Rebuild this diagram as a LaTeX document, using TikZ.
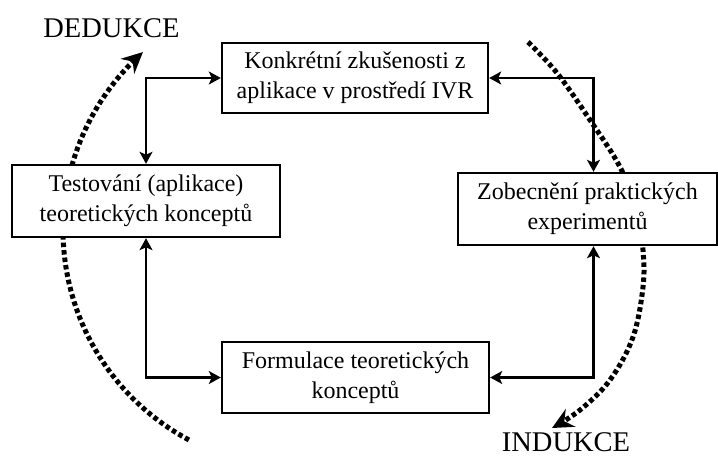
\documentclass[tikz,border=0pt]{standalone}
\usepackage{fontspec}
\setmainfont{Liberation Serif}
\usetikzlibrary{arrows.meta}
\begin{document}
\begin{tikzpicture}[x=1pt,y=-1pt,
  stage/.style={draw, line width=2.4pt, fill=white, inner sep=0pt, align=center,
                font=\fontsize{24}{30}\selectfont},
  link/.style={line width=2.6pt,
               {Stealth[length=12pt,width=13pt,inset=3pt]}-{Stealth[length=12pt,width=13pt,inset=3pt]}},
  sweep/.style={line width=5pt, dash pattern=on 4.5pt off 3pt,
                -{Stealth[length=21pt,width=20pt,inset=7pt]}},
  heading/.style={font=\fontsize{28.5}{34}\selectfont, inner sep=0pt}]
\useasboundingbox (0,0) rectangle (718,459);

% dotted cycle arcs (drawn first, boxes cover them)
\draw[sweep] plot[domain=118.1:228.4, samples=60] ({301+238*cos(\x)},{230+238*sin(\x)});
\draw[sweep] plot[smooth, tension=0.6] coordinates {(528,42) (557,73) (590,120) (620,167)
  (637,210) (643,250) (643,287) (633,337) (610,380) (580,410) (552,428)};

% stages of the cycle
\node[stage, minimum width=266pt, minimum height=70pt] (K) at (355,78)
  {Konkrétní zkušenosti z\\aplikace v prostředí IVR};
\node[stage, minimum width=268pt, minimum height=72pt] (T) at (146,201)
  {Testování (aplikace)\\teoretických konceptů};
\node[stage, minimum width=259pt, minimum height=72pt] (Z) at (587.5,209)
  {Zobecnění praktických\\experimentů};
\node[stage, minimum width=267pt, minimum height=71pt] (F) at (355.5,377.5)
  {Formulace teoretických\\konceptů};

% connectors
\draw[link] (K.west) -| (T.north);
\draw[link] (K.east) -| ([xshift=6pt]Z.north);
\draw[link] (T.south) |- (F.west);
\draw[link] ([xshift=6pt]Z.south) |- (F.east);

% headings
\node[heading, anchor=base] (ded) at (111.5,37) {DEDUKCE};
\node[heading, anchor=base] (ind) at (566,451) {INDUKCE};
\end{tikzpicture}
\end{document}
